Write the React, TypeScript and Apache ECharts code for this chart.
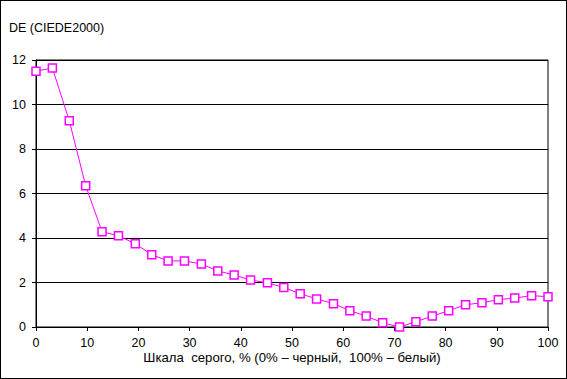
import React, { useEffect, useRef } from "react";
import * as echarts from "echarts";

const grayPercent = [0, 3.2, 6.5, 9.7, 12.9, 16.1, 19.4, 22.6, 25.8, 29.0, 32.3, 35.5, 38.7, 41.9, 45.2, 48.4, 51.6, 54.8, 58.1, 61.3, 64.5, 67.7, 71.0, 74.2, 77.4, 80.6, 83.9, 87.1, 90.3, 93.5, 96.8, 100];
const deValues = [11.5, 11.64, 9.27, 6.35, 4.28, 4.1, 3.74, 3.25, 2.97, 2.97, 2.83, 2.52, 2.34, 2.11, 1.99, 1.77, 1.5, 1.26, 1.05, 0.73, 0.49, 0.19, 0.0, 0.24, 0.49, 0.73, 1.0, 1.09, 1.23, 1.3, 1.41, 1.36];
const yTitle = "DE (CIEDE2000)";
const xTitle = "Шкала  серого, % (0% – черный,  100% – белый)";

export default function App() {
  const ref = useRef<HTMLDivElement>(null);
  useEffect(() => {
    document.body.style.margin = "0";
    const chart = echarts.init(ref.current!, null, { renderer: "svg" });
    const font = "'Liberation Sans', Arial, sans-serif";
    chart.setOption({
      animation: false,
      backgroundColor: "#ffffff",
      grid: { left: 35, right: 18, top: 59, bottom: 51, show: true, borderColor: "#000", borderWidth: 1 },
      xAxis: {
        type: "value",
        min: 0,
        max: 100,
        interval: 10,
        axisLine: { show: true, lineStyle: { color: "#000", width: 1 } },
        axisTick: { show: true, inside: false, length: 4, lineStyle: { color: "#000" } },
        axisLabel: { color: "#000", fontSize: 12.5, fontFamily: font, margin: 9 },
        splitLine: { show: false },
      },
      yAxis: {
        type: "value",
        min: 0,
        max: 12,
        interval: 2,
        axisLine: { show: true, lineStyle: { color: "#000", width: 1 } },
        axisTick: { show: true, inside: false, length: 4, lineStyle: { color: "#000" } },
        axisLabel: { color: "#000", fontSize: 12.5, fontFamily: font, margin: 10 },
        splitLine: { show: true, lineStyle: { color: "#000", width: 1 } },
      },
      graphic: [
        { type: "text", left: 8, top: 20, style: { text: yTitle, fill: "#000", font: `12.5px ${font}` } },
        { type: "text", x: 291, y: 350, style: { text: xTitle, fill: "#000", font: `13.2px ${font}`, align: "center", verticalAlign: "top" } },
      ],
      series: [
        {
          type: "line",
          data: grayPercent.map((x, i) => [x, deValues[i]]),
          symbol: "rect",
          symbolSize: 8,
          showAllSymbol: true,
          lineStyle: { color: "#ff00ff", width: 1 },
          itemStyle: { color: "#ffffff", borderColor: "#ff00ff", borderWidth: 1.5 },
          clip: false,
        },
      ],
    });
    return () => chart.dispose();
  }, []);
  return (
    <div style={{ width: 567, height: 379, boxSizing: "border-box", border: "1px solid #000", background: "#fff" }}>
      <div ref={ref} style={{ width: 565, height: 377 }} />
    </div>
  );
}
